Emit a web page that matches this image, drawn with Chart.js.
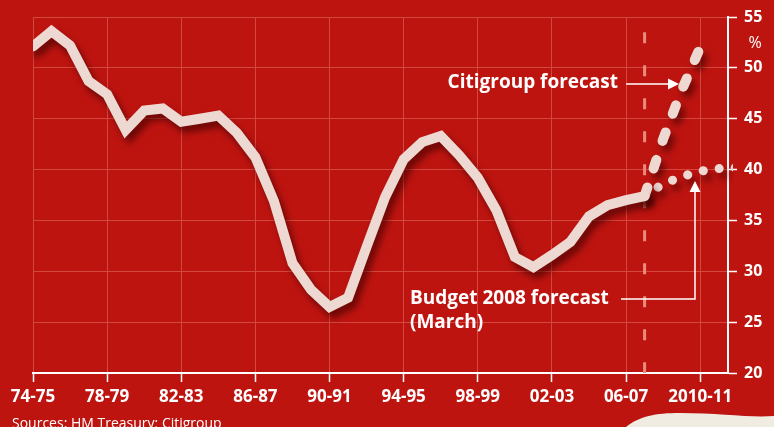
<!DOCTYPE html>
<html><head><meta charset="utf-8">
<script src="https://cdn.jsdelivr.net/npm/chart.js@4"></script>
<style>html,body{margin:0;padding:0;background:#BE1410;overflow:hidden}#wrap{width:774px;height:427px;position:relative}</style>
</head><body><div id="wrap"><canvas id="c" width="774" height="427"></canvas></div>
<script>
// ---- data ----
const categories = ['74-75','75-76','76-77','77-78','78-79','79-80','80-81','81-82','82-83','83-84','84-85','85-86','86-87','87-88','88-89','89-90','90-91','91-92','92-93','93-94','94-95','95-96','96-97','97-98','98-99','99-00','00-01','01-02','02-03','03-04','04-05','05-06','06-07','07-08','08-09','09-10','2010-11','2011-12','2012-13'];
const tickLabels = ['74-75','78-79','82-83','86-87','90-91','94-95','98-99','02-03','06-07','2010-11'];
const yTicks = [20,25,30,35,40,45,50,55];
// outturn, 74-75 .. 07-08 (% of GDP)
const outturn = [52.1,53.6,52.2,48.7,47.4,43.9,45.8,46.0,44.7,45.0,45.3,43.6,41.2,36.9,30.8,28.2,26.5,27.4,32.4,37.3,41.0,42.7,43.3,41.4,39.2,36.0,31.4,30.4,31.6,32.9,35.4,36.5,37.0,37.4];
// forecasts starting at 07-08
const forecastStartLabel = '07-08';
const citigroup = [37.4,43.0,47.8,52.0];
const budget2008 = [37.4,38.6,39.3,39.85,40.1,40.2];

const BG = '#BE1410', GRID = '#D4493F', LINE = '#EED9D2';
const FONT = "'Open Sans', 'Noto Sans', sans-serif";
const fs = categories.indexOf(forecastStartLabel);
const toPts = (arr, off) => arr.map((v, i) => ({x: off + i, y: v}));

const shadowPlugin = {
  id: 'shadowAndDecor',
  beforeDraw(chart) {
    const c = chart.ctx;
    c.save(); c.fillStyle = BG; c.fillRect(0, 0, chart.width, chart.height); c.restore();
  },
  beforeDatasetsDraw(chart) {
    const c = chart.ctx, xs = chart.scales.x, ys = chart.scales.y;
    // forecast start marker
    c.save();
    c.strokeStyle = '#E98C7C'; c.lineWidth = 3; c.setLineDash([11, 22]);
    const px = xs.getPixelForValue(fs);
    c.beginPath(); c.moveTo(px, ys.getPixelForValue(53.5)); c.lineTo(px, ys.bottom); c.stroke();
    c.restore();
    c.save();
    c.shadowColor = 'rgba(60,0,0,0.65)'; c.shadowBlur = 7; c.shadowOffsetX = 4; c.shadowOffsetY = 6;
  },
  afterDatasetsDraw(chart) { chart.ctx.restore(); },
  afterDraw(chart) {
    const c = chart.ctx;
    c.save();
    c.fillStyle = '#fff'; c.strokeStyle = '#fff'; c.lineWidth = 1.5;
    // % unit
    c.font = "16px " + FONT; c.textAlign = 'center'; c.textBaseline = 'middle';
    c.fillText('%', 755, 43);
    // Citigroup label + arrow
    c.font = "bold 19px " + FONT; c.textAlign = 'right';
    c.fillText('Citigroup forecast', 618, 83);
    c.beginPath(); c.moveTo(626, 84); c.lineTo(670, 84); c.stroke();
    c.beginPath(); c.moveTo(679, 84); c.lineTo(668, 78.5); c.lineTo(668, 89.5); c.closePath(); c.fill();
    // Budget label + arrow
    c.textAlign = 'left';
    c.fillText('Budget 2008 forecast', 410, 299);
    c.fillText('(March)', 410, 323);
    c.beginPath(); c.moveTo(621, 299); c.lineTo(695, 299); c.lineTo(695, 191); c.stroke();
    c.beginPath(); c.moveTo(695, 181); c.lineTo(689.5, 192); c.lineTo(700.5, 192); c.closePath(); c.fill();
    // source
    c.font = "14px " + FONT; c.textBaseline = 'alphabetic';
    c.fillText('Sources: HM Treasury; Citigroup', 12, 428);
    // cream page curl
    c.fillStyle = '#F0ECE2';
    c.beginPath(); c.moveTo(626, 427);
    c.bezierCurveTo(640, 416, 655, 413, 680, 413);
    c.bezierCurveTo(720, 413, 750, 418, 774, 416);
    c.lineTo(774, 427); c.closePath(); c.fill();
    c.restore();
  }
};

new Chart(document.getElementById('c'), {
  type: 'line',
  data: {
    datasets: [
      {label: 'Outturn', data: toPts(outturn, 0), borderColor: LINE, borderWidth: 10,
       borderCapStyle: 'round', borderJoinStyle: 'miter', pointRadius: 0, tension: 0},
      {label: 'Citigroup forecast', data: toPts(citigroup, fs), borderColor: LINE, borderWidth: 10,
       borderCapStyle: 'round', borderDash: [9, 20], pointRadius: 0, tension: 0},
      {label: 'Budget 2008 forecast', data: toPts(budget2008, fs), borderColor: LINE, borderWidth: 9,
       borderCapStyle: 'round', borderDash: [0.1, 16], pointRadius: 0, tension: 0,
       clip: {left: 20, top: 20, right: 5, bottom: 20}}
    ]
  },
  options: {
    responsive: false, animation: false, devicePixelRatio: 1,
    layout: {padding: {left: 33, top: 17, right: 0, bottom: 0}},
    plugins: {legend: {display: false}, tooltip: {enabled: false}},
    scales: {
      x: {
        type: 'linear', min: 0, max: 37.5,
        afterBuildTicks: s => { s.ticks = tickLabels.map(l => ({value: categories.indexOf(l)})); },
        afterFit: s => { s.height = 54; },
        ticks: {color: '#fff', font: {family: FONT, weight: 'bold', size: 17}, padding: 5,
                maxRotation: 0, autoSkip: false, callback: v => categories[v]},
        grid: {color: GRID, lineWidth: 1, tickColor: '#fff', tickLength: 9, tickWidth: 1.5},
        border: {display: true, color: '#fff', width: 2}
      },
      y: {
        position: 'right', min: 20, max: 55,
        afterBuildTicks: s => { s.ticks = yTicks.map(v => ({value: v})); },
        afterFit: s => { s.width = 46; },
        ticks: {color: '#fff', font: {family: FONT, weight: 'bold', size: 16}, padding: 7},
        grid: {color: GRID, lineWidth: 1, tickColor: '#fff', tickLength: 9, tickWidth: 1.5},
        border: {display: true, color: '#fff', width: 2}
      }
    }
  },
  plugins: [shadowPlugin]
});
</script>
</body></html>
